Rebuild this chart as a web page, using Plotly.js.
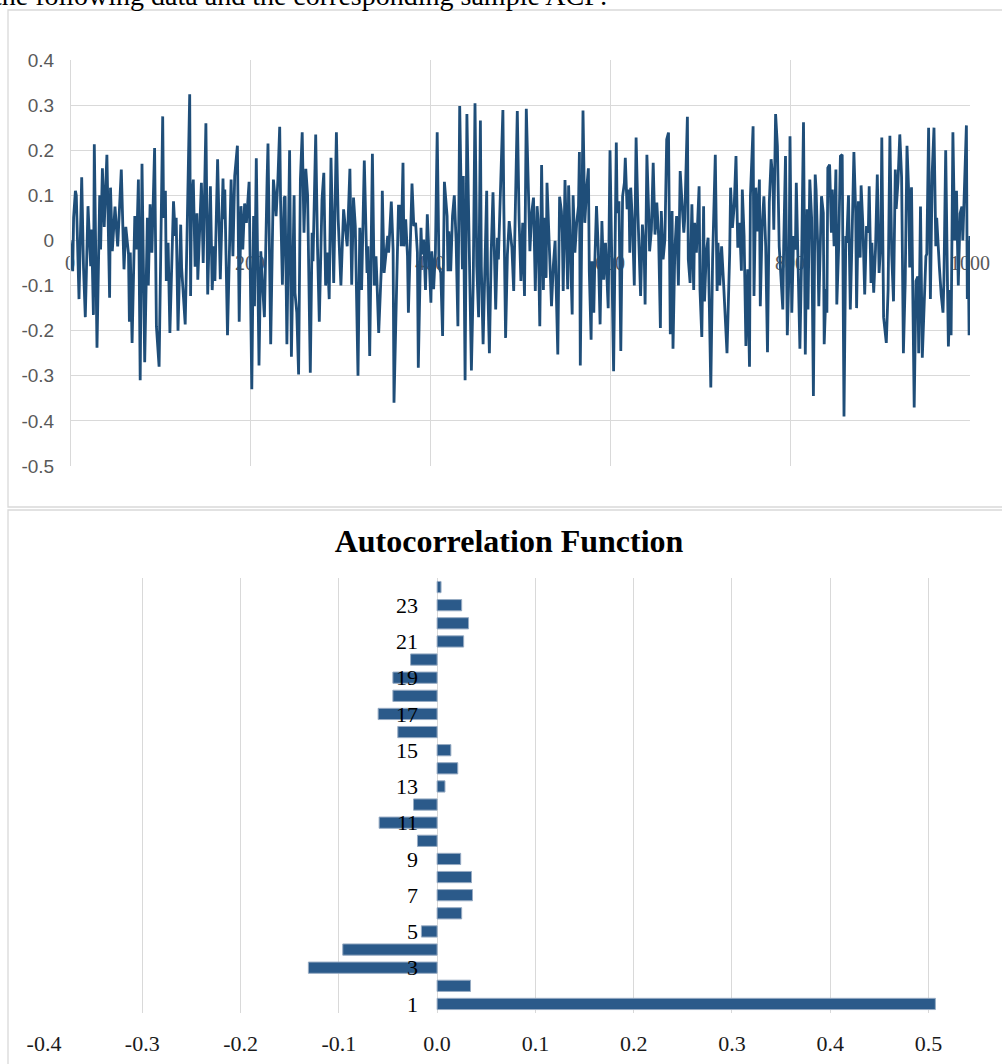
<!DOCTYPE html>
<html><head><meta charset="utf-8">
<script src="https://cdn.plot.ly/plotly-3.0.1.min.js"></script>
<style>html,body{margin:0;padding:0;background:#fff;}#chart{width:1002px;height:1064px;}</style>
</head><body><div id="chart"></div>
<script>
const idxA=[0,3,4,6,7,10,13,15,17,20,23,24,26,27,30,33,34,36,38,41,44,45,47,50,53,54,57,60,62,65,66,67,69,72,74,76,78,80,83,86,87,89,91,94,96,99,103,104,106,107,109,111,115,117,118,120,123,124,128,130,133,134,135,137,139,141,142,146,148,151,153,156,158,160,161];
const valA=[0,-0.068,0.05,0.11,0.10,-0.13,0.14,-0.06,-0.17,0.076,-0.057,0.024,-0.165,0.213,-0.238,0.10,-0.02,0.16,0.03,0.19,-0.127,0.117,-0.024,0.075,-0.013,0.03,0.157,-0.064,0.03,-0.03,-0.18,-0.027,-0.227,0.054,-0.02,0.135,-0.31,0.17,-0.27,0.05,-0.10,0.08,-0.027,0.205,-0.19,-0.28,0.275,0.05,0.11,-0.09,-0.005,-0.205,0.087,0.01,0.05,-0.20,0.035,-0.06,-0.186,0.006,0.324,-0.123,0.087,0.135,-0.058,0.06,-0.087,0.128,-0.05,0.26,-0.12,0.12,-0.11,-0.013,-0.09];
const idxB=[164,167,170,171,172,175,179,181,183,186,188,190,192,194,196,199,202,204,205,207,210,212,214,216,219,220,223,226,227,229,231,233,234,236,238,239,241,244,246,249,250,252,254,256,258,260,262,264,267,269,270,273,275,277,280,282,284,286,288,290,293,296,298,301,304,306,308,311,313,315,317,320];
const valB=[0.18,-0.086,0.137,0.047,0.113,-0.21,0.135,-0.035,0.143,0.21,-0.18,0.076,-0.02,0.082,0.039,0.13,-0.33,0.054,-0.146,0.182,-0.277,-0.024,-0.10,-0.17,0.135,0.215,-0.23,0.135,0.113,0.054,0.135,0.252,0.084,-0.098,0.095,0.098,-0.23,0.20,-0.258,0.10,-0.116,-0.16,-0.297,0.135,0.24,0.017,0.159,0.10,-0.293,0.017,-0.046,0.235,-0.013,-0.18,0.09,0.15,-0.10,-0.027,-0.13,0.183,-0.094,0.24,0.047,-0.10,0.069,0.024,-0.013,0.159,-0.098,0.095,0.032,-0.30];
const idxC=[322,324,327,330,331,333,336,338,340,341,343,346,347,349,351,353,354,357,359,360,363,365,367,368,370,371,373,375,376,378,380,382,384,386,387,390,391,393,395,397,399,401,402,404,406,408,410,412,414,416,419,420,421,423,425,427,429,431,433,436,437,439,441,444,446,448,450,452,454,456,457,459,461,463,464,466,468,470,473,475,476,478,481,482,484,486,488];
const valC=[0.028,-0.11,0.177,-0.072,-0.013,-0.256,0.192,-0.10,-0.035,-0.087,-0.205,-0.057,0.11,-0.072,-0.027,0.01,-0.027,0.086,-0.02,-0.36,-0.094,0.076,0.076,-0.013,0.172,-0.013,0.047,-0.035,-0.16,0.02,0.126,0.032,0.039,-0.027,-0.282,0.028,-0.031,0.002,-0.11,0.058,-0.035,-0.138,-0.024,-0.108,-0.027,0.24,-0.057,-0.072,-0.212,0.13,0.054,-0.068,0.02,-0.068,0.054,0.10,0.0,-0.19,0.298,-0.064,0.143,-0.31,0.28,-0.11,-0.288,-0.10,0.304,-0.057,-0.17,0.266,-0.057,-0.23,-0.072,0.11,-0.087,-0.25,-0.027,0.107,-0.153,0.006,-0.042,0.084,0.289,0.08,-0.216,-0.031,0.043];
const idxD=[491,493,497,499,501,503,505,507,510,511,513,515,517,519,520,522,524,526,527,529,530,533,535,537,539,540,542,544,546,547,548,550,553,554,556,558,559,561,563,565,566,567,570,572,574,576,577,579,580,582,583,585,587,589,591,593,595,596,598,600,602,604,607,608,610,612,614,616,617,619,621,622,623,625,627,629,631,633,634,636,638,639,641,643,644,646,648,650,652,654];
const valD=[-0.016,-0.112,0.287,0.047,-0.09,0.039,-0.123,0.292,0.061,-0.024,0.061,0.095,-0.112,0.076,0.047,-0.19,0.167,-0.11,0.05,-0.083,0.128,-0.06,-0.146,-0.057,-0.001,-0.087,-0.253,0.097,0.065,0.017,-0.112,0.134,-0.108,0.122,-0.027,-0.164,0.10,-0.027,0.039,0.076,0.196,-0.277,0.288,0.039,0.113,0.16,-0.068,-0.22,-0.046,-0.16,-0.057,0.076,-0.02,-0.186,0.043,-0.087,-0.005,-0.057,-0.15,0.20,-0.079,-0.29,0.217,0.061,0.087,-0.245,0.098,0.128,0.183,0.069,0.113,-0.027,0.117,0.039,-0.10,0.228,0.061,-0.10,-0.123,0.035,-0.027,-0.142,0.19,0.061,-0.024,0.024,0.172,0.013,0.084,0.01];
const idxE=[656,657,659,661,663,665,667,669,670,672,674,676,678,680,682,683,686,687,689,691,693,694,696,699,700,702,704,705,707,709,710,712,714,717,719,720,722,724,726,728,730,733,734,736,738,740,742,744,746,747,749,751,753,755,756,759,760,762,764,766,767,769,771,773,775,777,779,781,782,784,786,788,790,792,793,795,797,799,800,802,804,806,807,809,811,813,815,817,819,820,822];
const valE=[-0.194,0.065,-0.042,0.002,0.224,0.239,-0.208,0.065,-0.24,-0.024,0.054,-0.10,0.154,0.084,0.017,0.047,0.274,-0.042,-0.094,0.08,-0.11,0.039,-0.027,0.12,-0.11,-0.214,0.076,-0.135,-0.027,0.006,-0.11,-0.326,-0.042,0.19,-0.112,-0.005,-0.10,-0.013,-0.087,-0.18,-0.25,-0.027,0.117,0.028,0.076,0.187,-0.016,0.039,-0.067,0.113,0.01,-0.234,-0.064,-0.28,0.098,0.253,-0.123,0.117,0.02,0.135,-0.146,0.031,0.098,-0.013,-0.248,0.084,0.18,0.135,0.024,0.28,0.209,-0.013,-0.072,-0.153,-0.013,0.187,-0.21,-0.057,0.231,-0.16,0.01,-0.02,0.128,-0.068,-0.24,-0.027,0.262,-0.253,0.069,-0.153,0.135];
const idxF=[824,826,828,829,831,832,835,837,838,840,841,842,844,846,847,849,851,852,854,856,858,860,862,863,865,867,869,871,873,874,876,878,879,881,883,885,887,888,890,891,893,895,897,899,901,902,904,907,909,911,913,915,917,918,920,922,924,926,928,930,932,933,935,938,940,942,943,945,947,949,951,952,954,956,958,960,962,963,965,966,968,970,971,973,975,976,978,979,981,983,985,987,989,991,992,994,996,997,998,999,1000];
const valF=[0.05,-0.345,0.146,0.113,-0.027,-0.146,0.098,0.061,-0.23,-0.108,-0.16,0.161,0.168,0.017,0.113,-0.013,0.157,-0.142,-0.02,0.187,0.19,-0.39,0.01,-0.005,0.10,-0.153,0.01,0.196,0.061,-0.15,0.087,-0.038,0.122,0.032,-0.12,0.032,0.017,0.12,-0.094,-0.005,-0.116,-0.02,0.146,-0.072,0.002,0.228,-0.17,-0.227,-0.11,0.232,-0.03,-0.135,0.157,0.07,0.13,0.235,0.14,-0.25,-0.093,0.21,0.10,-0.06,0.118,-0.37,-0.09,-0.08,-0.25,0.075,-0.26,-0.14,-0.035,-0.03,0.25,-0.13,0.15,0.25,-0.013,0.05,-0.045,-0.06,-0.12,-0.16,-0.09,0.2,-0.1,-0.235,-0.11,-0.21,0.24,0.0,0.11,-0.1,0.06,0.075,0.0,0.14,0.255,-0.13,0.0,-0.21,0.01];

// ---- Sample ACF ----
const lags=[1,2,3,4,5,6,7,8,9,10,11,12,13,14,15,16,17,18,19,20,21,22,23,24];
const acf=[0.507,0.034,-0.131,-0.096,-0.016,0.025,0.036,0.035,0.024,-0.020,-0.059,-0.024,0.008,0.021,0.014,-0.040,-0.060,-0.045,-0.045,-0.027,0.027,0.032,0.025,0.004];

// ---- Tick labels ----
const tsXTicks=[0,200,400,600,800,1000];
const tsXText=['0','200','400','600','800','1000'];
const tsYTicks=[-0.5,-0.4,-0.3,-0.2,-0.1,0,0.1,0.2,0.3,0.4];
const tsYText=['-0.5','-0.4','-0.3','-0.2','-0.1','0','0.1','0.2','0.3','0.4'];
const acfXTicks=[-0.4,-0.3,-0.2,-0.1,0,0.1,0.2,0.3,0.4,0.5];
const acfXText=['-0.4','-0.3','-0.2','-0.1','0.0','0.1','0.2','0.3','0.4','0.5'];
const lagTicks=[1,3,5,7,9,11,13,15,17,19,21,23];
const lagText=['1','3','5','7','9','11','13','15','17','19','21','23'];
const chartTitle='Autocorrelation Function';
const introText='the following data and the corresponding sample ACF:';

const seriesIdx=[].concat(idxA,idxB,idxC,idxD,idxE,idxF);
const seriesVal=[].concat(valA,valB,valC,valD,valE,valF);

const W=1002,H=1064;
const px=v=>v/W, py=v=>1-v/H;
const xd=[px(70),px(970)], yd=[py(466),py(60)];
const yZeroPos=yd[0]+(0.5/0.9)*(yd[1]-yd[0]);
// bottom chart: -0.4 at 44px, 0.5 at 928.5px; range extended slightly past 0.5 so the lag-1 bar is not clipped
const unit=(928.5-44)/0.9;
const xMaxB=0.53;
const bxd=[px(44),px(44+unit*(xMaxB+0.4))], byd=[py(1013),py(578)];
const xZeroPos=px(44+unit*0.4);

const serif='Liberation Serif, DejaVu Serif, serif';
const grid='#d9d9d9';

const traces=[
 {type:'scatter',mode:'lines',x:seriesIdx,y:seriesVal,xaxis:'x',yaxis:'y',
  line:{color:'#1f4e79',width:2.8},hoverinfo:'skip',showlegend:false},
 {type:'bar',orientation:'h',x:acf,y:lags,xaxis:'x2',yaxis:'y2',
  marker:{color:'#2b5a8a',line:{color:'#97abc3',width:1}},hoverinfo:'skip',showlegend:false}
];

const layout={
 width:W,height:H,margin:{l:0,r:0,t:0,b:0},paper_bgcolor:'#fff',plot_bgcolor:'rgba(0,0,0,0)',
 showlegend:false,bargap:0.38,
 title:{text:chartTitle,font:{family:serif,size:32,color:'#000',weight:'bold'},
   x:509/W,xanchor:'center',y:py(541),yanchor:'middle',xref:'paper',yref:'paper'},
 xaxis:{domain:xd,range:[0,1000],anchor:'free',position:yZeroPos,tickmode:'array',tickvals:tsXTicks,ticktext:tsXText,
   showgrid:true,gridcolor:grid,gridwidth:1,zeroline:false,showline:false,ticks:'',layer:'below traces',
   tickfont:{family:serif,size:20,color:'#595959'},ticklabelstandoff:9,fixedrange:true},
 yaxis:{domain:yd,range:[-0.5,0.4],anchor:'free',position:xd[0],tickmode:'array',tickvals:tsYTicks,ticktext:tsYText,
   showgrid:true,gridcolor:grid,gridwidth:1,zeroline:false,showline:true,linecolor:grid,ticks:'',
   tickfont:{family:'Liberation Sans Narrow, Liberation Sans, sans-serif',size:19,color:'#595959'},ticklabelstandoff:12,fixedrange:true},
 xaxis2:{domain:bxd,range:[-0.4,xMaxB],anchor:'y2',tickmode:'array',tickvals:acfXTicks,ticktext:acfXText,
   showgrid:true,gridcolor:grid,gridwidth:1,zeroline:false,showline:false,ticks:'',
   tickfont:{family:serif,size:22,color:'#1a1a1a'},ticklabelstandoff:15,fixedrange:true},
 yaxis2:{domain:byd,range:[0.5,24.5],anchor:'free',position:xZeroPos,tickmode:'array',tickvals:lagTicks,ticktext:lagText,
   showgrid:false,zeroline:false,showline:false,ticks:'',
   tickfont:{family:serif,size:22,color:'#000'},ticklabelstandoff:19,fixedrange:true},
 shapes:[
  {type:'rect',xref:'paper',yref:'paper',x0:px(8),x1:px(1010),y0:py(507),y1:py(10),line:{color:grid,width:1.3},fillcolor:'rgba(0,0,0,0)',layer:'below'},
  {type:'rect',xref:'paper',yref:'paper',x0:px(8),x1:px(1010),y0:py(1080),y1:py(510),line:{color:grid,width:1.3},fillcolor:'rgba(0,0,0,0)',layer:'below'}
 ],
 annotations:[
  {text:introText,xref:'paper',yref:'paper',x:px(-8),y:py(13),xanchor:'left',yanchor:'bottom',showarrow:false,
   font:{family:serif,size:28,color:'#000'}}
 ]
};
Plotly.newPlot('chart',traces,layout,{displayModeBar:false,staticPlot:true});
</script></body></html>
